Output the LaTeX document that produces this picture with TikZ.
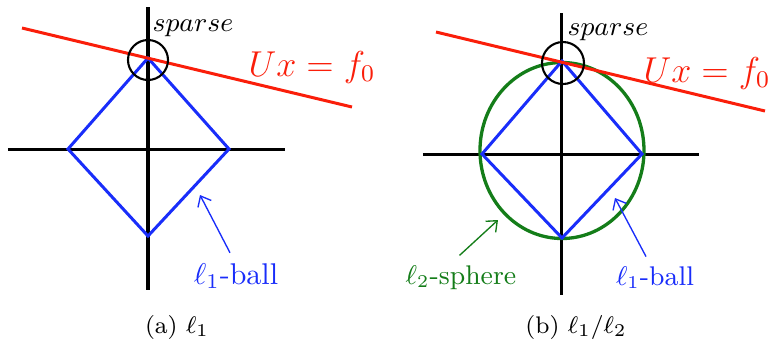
\documentclass[tikz,border=0pt]{standalone}
\usepackage{xcolor}
\usepackage{tikz}
\usetikzlibrary{arrows.meta,positioning,calc}

\definecolor{lnred}{RGB}{250,30,10}
\definecolor{lnblue}{RGB}{25,45,250}
\definecolor{lngreen}{RGB}{20,125,25}

\tikzset{
    axis/.style={line width=1pt, black},
    ball/.style={line width=1pt, lnblue},
    sphere/.style={line width=1.1pt, lngreen},
    plane/.style={line width=1pt, lnred},
    ring/.style={line width=0.7pt, black},
    pointer/.style={line width=0.45pt, -{Straight Barb[length=3pt,width=5pt]}},
}

\begin{document}
\begin{tikzpicture}[x=0.3333pt, y=-0.3333pt]
    \useasboundingbox (0,0) rectangle (773,339);

    % (a) l1 -- axes and ball
    \draw[axis] (8,149) -- (285,149);
    \draw[axis] (148,7) -- (148,290);
    \draw[ball] (148,58) -- (229,149) -- (148,236) -- (68,149) -- cycle;
    \draw[plane] (22,28) -- (352,107);
    \draw[ring] (148,60) circle [radius=20];

    % (a) labels
    \node[font=\small] (sparsea) at (193,28) {$sparse$};
    \node[text=lnred, font=\large] (eqa) at (312,67) {$Ux=f_0$};
    \node[text=lnblue] (balla) at (236,276) {$\ell_1$-ball};
    \node[font=\footnotesize] (capa) at (177,327) {(a) $\ell_1$};
    \coordinate (tipa) at (200,195);
    \draw[pointer, lnblue] ([xshift=-2pt]balla.north) -- (tipa);

    % (b) l1/l2 -- axes, ball and sphere
    \draw[axis] (423,154) -- (699,154);
    \draw[axis] (562,13) -- (562,295);
    \draw[sphere] (562,150.5) ellipse [x radius=82, y radius=88];
    \draw[ball] (562,61) -- (642,154) -- (562,238) -- (482,154) -- cycle;
    \draw[plane] (436,32) -- (765,111);
    \draw[ring] (563,63) circle [radius=21];

    % (b) labels
    \node[font=\small] (sparseb) at (608,32) {$sparse$};
    \node[text=lnred, font=\large, anchor=east, inner sep=0pt] (eqb) at (771,73) {$Ux=f_0$};
    \node[text=lngreen, font=\small] (sphereb) at (461,278) {$\ell_2$-sphere};
    \node[text=lnblue, font=\small] (ballb) at (655,278) {$\ell_1$-ball};
    \node[font=\footnotesize] (capb) at (576,327) {(b) $\ell_1/\ell_2$};
    \coordinate (tipg) at (498,220);
    \coordinate (tipb) at (615,198);
    \draw[pointer, lngreen] ([xshift=-0.5pt]sphereb.north) -- (tipg);
    \draw[pointer, lnblue] ([xshift=-3pt]ballb.north) -- (tipb);
\end{tikzpicture}
\end{document}
